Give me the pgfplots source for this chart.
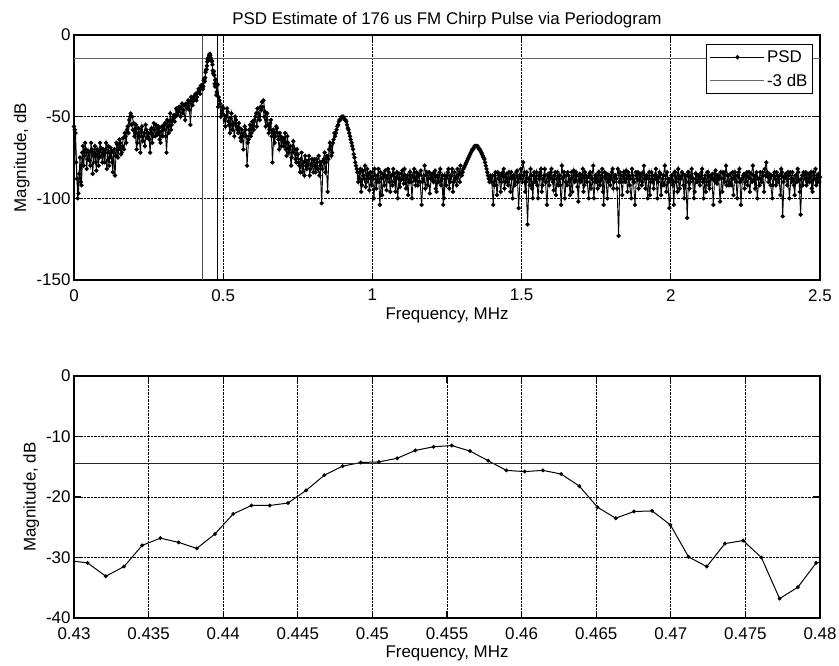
\documentclass[border=0pt]{standalone}
\usepackage{pgfplots}
\pgfplotsset{compat=1.18}
\usepackage{fontspec}
\setmainfont{Liberation Sans}
\pgfplotsset{
  matlab/.style={
    scale only axis,
    width=746bp,
    font=\fontsize{17}{20}\selectfont,
    /pgf/number format/assume math mode=true,
    tick align=inside,
    major tick length=7bp,
    axis line style={line width=1.2bp},
    every tick/.style={line width=1.1bp, black},
    grid=major,
    grid style={densely dotted, black, line width=0.9bp},
    xlabel={Frequency, MHz},
    ylabel={Magnitude, dB},
    tick label style={font=\fontsize{17}{20}\selectfont},
    xticklabel style={inner ysep=0bp, yshift=-9bp},
    yticklabel style={inner ysep=0bp},
    label style={font=\fontsize{17}{20}\selectfont},
    xlabel style={at={(axis description cs:0.5,0)}, anchor=north, inner sep=0pt, yshift=-28bp},
  },
  psd/.style={black, line width=0.9bp, mark=*, mark size=1.7bp, mark options={solid, fill=black}},
  db3/.style={black!60, line width=1.1bp},
}
\begin{document}
\begin{tikzpicture}
\path[use as bounding box] (-74bp,35bp) rectangle (765bp,-631bp);
\begin{axis}[matlab,
  name=top, at={(0,0)}, anchor=north west,
  height=245bp,
  xmin=0, xmax=2.5, ymin=-150, ymax=0,
  xtick={0,0.5,1,1.5,2,2.5},
  ytick={-150,-100,-50,0},
  title={PSD Estimate of 176 us FM Chirp Pulse via Periodogram},
  title style={font=\fontsize{17}{20}\selectfont, yshift=-3bp},
  legend style={at={(rel axis cs:0.9906,0.963)}, anchor=north east, draw=black, line width=1bp, font=\fontsize{17}{20}\selectfont, inner xsep=3bp, inner ysep=4bp, row sep=6bp, cells={anchor=west}},
  legend image code/.code={\draw[mark repeat=2,mark phase=2,#1] plot coordinates {(0bp,0bp)(27bp,0bp)(54bp,0bp)};},
]
\addplot[psd] coordinates {
(0.000,-56)(0.005,-60)(0.010,-88)(0.015,-97)(0.020,-75)(0.025,-92)(0.030,-68)(0.035,-74)(0.040,-70)(0.045,-76)
(0.050,-72)(0.055,-80)(0.060,-70)(0.065,-74)(0.070,-68)(0.075,-83)(0.080,-71)(0.085,-75)(0.090,-69)(0.095,-78)
(0.100,-73)(0.105,-70)(0.110,-82)(0.115,-68)(0.120,-75)(0.125,-71)(0.130,-84)(0.135,-70)(0.140,-74)(0.145,-67)
(0.150,-70)(0.155,-66)(0.160,-72)(0.165,-63)(0.170,-60)(0.175,-66)(0.180,-56)(0.185,-52)(0.190,-48)(0.195,-50)
(0.200,-54)(0.205,-60)(0.210,-70)(0.215,-57)(0.220,-62)(0.225,-58)(0.230,-65)(0.235,-60)(0.240,-55)(0.245,-63)
(0.250,-60)(0.255,-72)(0.260,-57)(0.265,-62)(0.270,-58)(0.275,-55)(0.280,-61)(0.285,-57)(0.290,-66)(0.295,-56)
(0.300,-58)(0.305,-54)(0.310,-72)(0.315,-56)(0.320,-53)(0.325,-58)(0.330,-52)(0.335,-49)(0.340,-50)(0.345,-46)
(0.350,-47)(0.355,-45)(0.360,-44)(0.365,-48)(0.370,-43)(0.375,-42)(0.380,-45)(0.385,-41)(0.390,-55)(0.395,-40)
(0.400,-38)(0.405,-37)(0.410,-40)(0.415,-35)(0.420,-34)(0.425,-31)
(0.42969,-30.5)(0.43091,-30.9)(0.43213,-33.1)(0.43335,-31.5)(0.43457,-28.0)(0.43579,-26.8)(0.43701,-27.5)(0.43823,-28.5)
(0.43945,-26.1)(0.44067,-22.8)(0.44189,-21.4)(0.44312,-21.4)(0.44434,-21.0)(0.44556,-18.9)(0.44678,-16.4)(0.44800,-14.9)
(0.44922,-14.3)(0.45044,-14.2)(0.45166,-13.6)(0.45288,-12.3)(0.45410,-11.7)(0.45532,-11.5)(0.45654,-12.4)(0.45776,-14.0)
(0.45898,-15.6)(0.46021,-15.8)(0.46143,-15.6)(0.46265,-16.2)(0.46387,-18.2)(0.46509,-21.7)(0.46631,-23.5)(0.46753,-22.4)
(0.46875,-22.3)(0.46997,-24.6)(0.47119,-29.9)(0.47241,-31.5)(0.47363,-27.7)(0.47485,-27.2)(0.47607,-30.0)(0.47729,-36.8)
(0.47852,-34.9)(0.47974,-30.9)(0.48096,-30.2)
(0.485,-38)(0.490,-42)(0.495,-48)
(0.500,-45)(0.505,-52)(0.510,-50)(0.515,-47)(0.520,-55)(0.525,-51)(0.530,-58)(0.535,-54)(0.540,-50)(0.545,-56)
(0.550,-60)(0.555,-57)(0.560,-65)(0.565,-62)(0.570,-60)(0.575,-58)(0.580,-80)(0.585,-64)(0.590,-55)(0.595,-60)
(0.600,-56)(0.605,-52)(0.610,-48)(0.615,-45)(0.620,-50)(0.625,-44)(0.630,-41)(0.635,-40)(0.640,-47)(0.645,-52)
(0.650,-55)(0.655,-58)(0.660,-52)(0.665,-78)(0.670,-60)(0.675,-62)(0.680,-57)(0.685,-64)(0.690,-60)(0.695,-68)
(0.700,-63)(0.705,-66)(0.710,-70)(0.715,-62)(0.720,-72)(0.725,-68)(0.730,-75)(0.735,-65)(0.740,-70)(0.745,-78)
(0.750,-73)(0.755,-80)(0.760,-76)(0.765,-84)(0.770,-78)(0.775,-74)(0.780,-82)(0.785,-77)(0.790,-86)(0.795,-79)
(0.800,-80)(0.805,-76)(0.810,-84)(0.815,-78)(0.820,-74)(0.825,-80)(0.830,-103)(0.835,-77)(0.840,-72)(0.845,-78)
(0.850,-96)(0.855,-70)(0.860,-68)(0.865,-72)(0.870,-64)(0.875,-62)(0.880,-58)(0.885,-55)(0.890,-52)(0.895,-51)
(0.900,-50)(0.905,-51)(0.910,-52)(0.915,-55)(0.920,-58)(0.925,-62)(0.930,-66)(0.935,-70)(0.940,-75)(0.945,-80)
(0.950,-84)(0.955,-88)(0.960,-82)(0.965,-92)(0.970,-86)(0.975,-80)(0.980,-90)(0.985,-85)(0.990,-95)(0.995,-88)
(1.000,-84)(1.005,-100)(1.010,-86)(1.015,-90)(1.020,-82)(1.025,-104)(1.030,-88)(1.035,-85)(1.040,-92)(1.045,-86)
(1.050,-88)(1.055,-84)(1.060,-96)(1.065,-86)(1.070,-82)(1.075,-90)(1.080,-87)(1.085,-100)(1.090,-85)(1.095,-89)
(1.100,-83)(1.105,-91)(1.110,-86)(1.115,-88)(1.120,-98)(1.125,-84)(1.130,-90)(1.135,-86)(1.140,-82)(1.145,-92)
(1.150,-87)(1.155,-85)(1.160,-90)(1.165,-104)(1.170,-88)(1.175,-80)(1.180,-86)(1.185,-92)(1.190,-84)(1.195,-88)
(1.200,-85)(1.205,-90)(1.210,-83)(1.215,-96)(1.220,-87)(1.225,-84)(1.230,-92)(1.235,-86)(1.240,-100)(1.245,-88)
(1.250,-86)(1.255,-82)(1.260,-90)(1.265,-86)(1.270,-96)(1.275,-84)(1.280,-88)(1.285,-82)(1.290,-85)(1.295,-80)
(1.300,-86)(1.305,-82)(1.310,-80)(1.315,-78)(1.320,-76)(1.325,-74)(1.330,-72)(1.335,-70)(1.340,-69)(1.345,-68)
(1.350,-68)(1.355,-69)(1.360,-70)(1.365,-72)(1.370,-74)(1.375,-76)(1.380,-80)(1.385,-84)(1.390,-88)(1.395,-86)
(1.400,-90)(1.405,-104)(1.410,-86)(1.415,-92)(1.420,-84)(1.425,-88)(1.430,-96)(1.435,-86)(1.440,-82)(1.445,-90)
(1.450,-85)(1.455,-92)(1.460,-88)(1.465,-84)(1.470,-100)(1.475,-86)(1.480,-90)(1.485,-83)(1.490,-106)(1.495,-88)
(1.500,-86)(1.505,-78)(1.510,-84)(1.515,-90)(1.520,-116)(1.525,-88)(1.530,-82)(1.535,-94)(1.540,-86)(1.545,-90)
(1.550,-84)(1.555,-100)(1.560,-88)(1.565,-82)(1.570,-92)(1.575,-86)(1.580,-90)(1.585,-104)(1.590,-85)(1.595,-88)
(1.600,-82)(1.605,-90)(1.610,-86)(1.615,-98)(1.620,-84)(1.625,-88)(1.630,-92)(1.635,-80)(1.640,-87)(1.645,-100)
(1.650,-86)(1.655,-84)(1.660,-90)(1.665,-88)(1.670,-96)(1.675,-83)(1.680,-89)(1.685,-86)(1.690,-102)(1.695,-85)
(1.700,-88)(1.705,-82)(1.710,-92)(1.715,-86)(1.720,-90)(1.725,-100)(1.730,-84)(1.735,-88)(1.740,-80)(1.745,-90)
(1.750,-86)(1.755,-94)(1.760,-84)(1.765,-89)(1.770,-82)(1.775,-104)(1.780,-87)(1.785,-85)(1.790,-90)(1.795,-86)
(1.800,-88)(1.805,-82)(1.810,-90)(1.815,-86)(1.820,-94)(1.825,-123)(1.830,-84)(1.835,-90)(1.840,-86)(1.845,-88)
(1.850,-83)(1.855,-96)(1.860,-86)(1.865,-88)(1.870,-82)(1.875,-90)(1.880,-104)(1.885,-86)(1.890,-84)(1.895,-89)
(1.900,-85)(1.905,-90)(1.910,-80)(1.915,-94)(1.920,-86)(1.925,-88)(1.930,-98)(1.935,-84)(1.940,-90)(1.945,-86)
(1.950,-82)(1.955,-100)(1.960,-87)(1.965,-85)(1.970,-92)(1.975,-86)(1.980,-80)(1.985,-96)(1.990,-88)(1.995,-106)
(2.000,-90)(2.005,-86)(2.010,-104)(2.015,-84)(2.020,-88)(2.025,-82)(2.030,-94)(2.035,-87)(2.040,-85)(2.045,-100)
(2.050,-86)(2.055,-112)(2.060,-84)(2.065,-90)(2.070,-82)(2.075,-88)(2.080,-96)(2.085,-85)(2.090,-90)(2.095,-86)
(2.100,-88)(2.105,-82)(2.110,-100)(2.115,-86)(2.120,-90)(2.125,-84)(2.130,-94)(2.135,-87)(2.140,-85)(2.145,-89)
(2.150,-83)(2.155,-91)(2.160,-86)(2.165,-102)(2.170,-88)(2.175,-84)(2.180,-90)(2.185,-80)(2.190,-86)(2.195,-92)
(2.200,-85)(2.205,-88)(2.210,-98)(2.215,-84)(2.220,-90)(2.225,-86)(2.230,-82)(2.235,-104)(2.240,-88)(2.245,-85)
(2.250,-90)(2.255,-84)(2.260,-87)(2.265,-96)(2.270,-85)(2.275,-80)(2.280,-89)(2.285,-86)(2.290,-100)(2.295,-88)
(2.300,-84)(2.305,-90)(2.310,-86)(2.315,-82)(2.320,-78)(2.325,-87)(2.330,-85)(2.335,-92)(2.340,-100)(2.345,-86)
(2.350,-88)(2.355,-84)(2.360,-90)(2.365,-86)(2.370,-82)(2.375,-111)(2.380,-87)(2.385,-85)(2.390,-92)(2.395,-86)
(2.400,-84)(2.405,-90)(2.410,-88)(2.415,-98)(2.420,-86)(2.425,-82)(2.430,-89)(2.435,-110)(2.440,-86)(2.445,-84)
(2.450,-88)(2.455,-92)(2.460,-85)(2.465,-90)(2.470,-84)(2.475,-96)(2.480,-86)(2.485,-82)(2.490,-90)(2.495,-85)(2.500,-87)
};
\addlegendentry{PSD}
\addplot[db3] coordinates {(0,-14.5)(2.5,-14.5)};
\addlegendentry{-3 dB}
\addplot[psd, forget plot] coordinates {
(0.0025,-58)(0.0075,-78)(0.0125,-100)(0.0175,-85)(0.0225,-90)(0.0275,-72)(0.0325,-80)(0.0375,-66)(0.0425,-82)(0.0475,-71)
(0.0525,-77)(0.0575,-66)(0.0625,-85)(0.0675,-72)(0.0725,-78)(0.0775,-70)(0.0825,-80)(0.0875,-66)(0.0925,-74)(0.0975,-70)
(0.1025,-78)(0.1075,-66)(0.1125,-72)(0.1175,-80)(0.1225,-69)(0.1275,-78)(0.1325,-72)(0.1375,-86)(0.1425,-66)(0.1475,-75)
(0.1525,-64)(0.1575,-73)(0.1625,-68)(0.1675,-70)(0.1725,-62)(0.1775,-58)(0.1825,-60)(0.1875,-50)(0.1925,-55)(0.1975,-58)
(0.2025,-62)(0.2075,-55)(0.2125,-66)(0.2175,-60)(0.2225,-72)(0.2275,-56)(0.2325,-62)(0.2375,-68)(0.2425,-58)(0.2475,-60)
(0.2525,-64)(0.2575,-58)(0.2625,-66)(0.2675,-54)(0.2725,-62)(0.2775,-60)(0.2825,-56)(0.2875,-64)(0.2925,-59)(0.2975,-62)
(0.3025,-55)(0.3075,-62)(0.3125,-52)(0.3175,-60)(0.3225,-48)(0.3275,-55)(0.3325,-50)(0.3375,-53)(0.3425,-45)(0.3475,-49)
(0.3525,-44)(0.3575,-50)(0.3625,-42)(0.3675,-46)(0.3725,-52)(0.3775,-44)(0.3825,-40)(0.3875,-46)(0.3925,-38)(0.3975,-43)
(0.4025,-40)(0.4075,-36)(0.4125,-38)(0.4175,-33)(0.4225,-36)(0.4275,-32)
};
\addplot[psd, forget plot] coordinates {
(0.4825,-44)(0.4875,-40)(0.4925,-50)(0.4975,-44)
(0.5025,-49)(0.5075,-56)(0.5125,-45)(0.5175,-53)(0.5225,-60)(0.5275,-48)(0.5325,-55)(0.5375,-62)(0.5425,-52)(0.5475,-58)
(0.5525,-54)(0.5575,-63)(0.5625,-58)(0.5675,-70)(0.5725,-56)(0.5775,-62)(0.5825,-66)(0.5875,-58)(0.5925,-62)(0.5975,-53)
(0.6025,-58)(0.6075,-50)(0.6125,-56)(0.6175,-48)(0.6225,-52)(0.6275,-46)(0.6325,-44)(0.6375,-50)(0.6425,-56)(0.6475,-48)
(0.6525,-60)(0.6575,-54)(0.6625,-62)(0.6675,-58)(0.6725,-66)(0.6775,-56)(0.6825,-60)(0.6875,-70)(0.6925,-62)(0.6975,-64)
(0.7025,-68)(0.7075,-60)(0.7125,-74)(0.7175,-66)(0.7225,-70)(0.7275,-80)(0.7325,-68)(0.7375,-72)(0.7425,-76)(0.7475,-70)
(0.7525,-78)(0.7575,-84)(0.7625,-72)(0.7675,-80)(0.7725,-86)(0.7775,-77)(0.7825,-80)(0.7875,-74)(0.7925,-82)(0.7975,-76)
(0.8025,-84)(0.8075,-80)(0.8125,-76)(0.8175,-82)(0.8225,-86)(0.8275,-78)(0.8325,-82)(0.8375,-76)(0.8425,-84)(0.8475,-74)
(0.8525,-76)(0.8575,-66)(0.8625,-74)(0.8675,-66)(0.8725,-60)(0.8775,-60)(0.8825,-56)(0.8875,-53)(0.8925,-52)(0.8975,-50)
(0.9025,-50)(0.9075,-52)(0.9125,-53)(0.9175,-57)(0.9225,-60)(0.9275,-64)(0.9325,-68)(0.9375,-73)(0.9425,-78)(0.9475,-82)
(0.9525,-90)(0.9575,-84)(0.9625,-96)(0.9675,-83)(0.9725,-88)(0.9775,-93)(0.9825,-82)(0.9875,-88)(0.9925,-84)(0.9975,-92)
(1.0025,-88)(1.0075,-82)(1.0125,-94)(1.0175,-86)(1.0225,-90)(1.0275,-84)(1.0325,-98)(1.0375,-87)(1.0425,-83)(1.0475,-95)
(1.0525,-82)(1.0575,-90)(1.0625,-86)(1.0675,-92)(1.0725,-85)(1.0775,-96)(1.0825,-84)(1.0875,-88)(1.0925,-93)(1.0975,-85)
(1.1025,-88)(1.1075,-82)(1.1125,-94)(1.1175,-86)(1.1225,-90)(1.1275,-84)(1.1325,-100)(1.1375,-87)(1.1425,-89)(1.1475,-84)
(1.1525,-92)(1.1575,-86)(1.1625,-83)(1.1675,-90)(1.1725,-86)(1.1775,-94)(1.1825,-84)(1.1875,-88)(1.1925,-97)(1.1975,-86)
(1.2025,-89)(1.2075,-84)(1.2125,-94)(1.2175,-86)(1.2225,-90)(1.2275,-82)(1.2325,-88)(1.2375,-104)(1.2425,-86)(1.2475,-92)
(1.2525,-84)(1.2575,-94)(1.2625,-86)(1.2675,-82)(1.2725,-90)(1.2775,-88)(1.2825,-92)(1.2875,-86)(1.2925,-90)(1.2975,-84)
(1.3025,-84)(1.3075,-81)(1.3125,-79)(1.3175,-77)(1.3225,-75)(1.3275,-73)(1.3325,-71)(1.3375,-70)(1.3425,-68)(1.3475,-68)
(1.3525,-68)(1.3575,-70)(1.3625,-71)(1.3675,-73)(1.3725,-75)(1.3775,-78)(1.3825,-82)(1.3875,-86)(1.3925,-90)(1.3975,-88)
(1.4025,-86)(1.4075,-92)(1.4125,-84)(1.4175,-98)(1.4225,-88)(1.4275,-85)(1.4325,-90)(1.4375,-84)(1.4425,-94)(1.4475,-87)
(1.4525,-90)(1.4575,-84)(1.4625,-96)(1.4675,-88)(1.4725,-86)(1.4775,-92)(1.4825,-84)(1.4875,-90)(1.4925,-86)(1.4975,-82)
(1.5025,-90)(1.5075,-86)(1.5125,-96)(1.5175,-84)(1.5225,-88)(1.5275,-92)(1.5325,-86)(1.5375,-100)(1.5425,-84)(1.5475,-88)
(1.5525,-92)(1.5575,-86)(1.5625,-84)(1.5675,-96)(1.5725,-88)(1.5775,-82)(1.5825,-90)(1.5875,-86)(1.5925,-92)(1.5975,-84)
(1.6025,-88)(1.6075,-95)(1.6125,-84)(1.6175,-88)(1.6225,-92)(1.6275,-86)(1.6325,-104)(1.6375,-88)(1.6425,-84)(1.6475,-90)
(1.6525,-92)(1.6575,-86)(1.6625,-98)(1.6675,-84)(1.6725,-88)(1.6775,-90)(1.6825,-84)(1.6875,-93)(1.6925,-86)(1.6975,-90)
(1.7025,-86)(1.7075,-96)(1.7125,-84)(1.7175,-90)(1.7225,-87)(1.7275,-85)(1.7325,-94)(1.7375,-88)(1.7425,-100)(1.7475,-86)
(1.7525,-90)(1.7575,-84)(1.7625,-92)(1.7675,-86)(1.7725,-96)(1.7775,-84)(1.7825,-88)(1.7875,-100)(1.7925,-86)(1.7975,-92)
(1.8025,-84)(1.8075,-94)(1.8125,-86)(1.8175,-88)(1.8225,-82)(1.8275,-90)(1.8325,-86)(1.8375,-98)(1.8425,-84)(1.8475,-90)
(1.8525,-88)(1.8575,-84)(1.8625,-92)(1.8675,-100)(1.8725,-86)(1.8775,-90)(1.8825,-84)(1.8875,-88)(1.8925,-94)(1.8975,-86)
(1.9025,-92)(1.9075,-84)(1.9125,-88)(1.9175,-86)(1.9225,-100)(1.9275,-84)(1.9325,-90)(1.9375,-86)(1.9425,-94)(1.9475,-88)
(1.9525,-86)(1.9575,-90)(1.9625,-84)(1.9675,-98)(1.9725,-88)(1.9775,-92)(1.9825,-86)(1.9875,-84)(1.9925,-90)(1.9975,-88)
(2.0025,-86)(2.0075,-92)(2.0125,-84)(2.0175,-90)(2.0225,-96)(2.0275,-86)(2.0325,-88)(2.0375,-84)(2.0425,-92)(2.0475,-86)
(2.0525,-90)(2.0575,-84)(2.0625,-94)(2.0675,-86)(2.0725,-88)(2.0775,-100)(2.0825,-85)(2.0875,-90)(2.0925,-86)(2.0975,-92)
(2.1025,-84)(2.1075,-90)(2.1125,-88)(2.1175,-96)(2.1225,-84)(2.1275,-92)(2.1325,-86)(2.1375,-88)(2.1425,-104)(2.1475,-85)
(2.1525,-90)(2.1575,-86)(2.1625,-88)(2.1675,-84)(2.1725,-96)(2.1775,-88)(2.1825,-84)(2.1875,-92)(2.1925,-86)(2.1975,-90)
(2.2025,-92)(2.2075,-84)(2.2125,-88)(2.2175,-86)(2.2225,-100)(2.2275,-84)(2.2325,-90)(2.2375,-88)(2.2425,-86)(2.2475,-94)
(2.2525,-86)(2.2575,-92)(2.2625,-84)(2.2675,-88)(2.2725,-90)(2.2775,-86)(2.2825,-94)(2.2875,-84)(2.2925,-88)(2.2975,-92)
(2.3025,-88)(2.3075,-84)(2.3125,-96)(2.3175,-86)(2.3225,-84)(2.3275,-90)(2.3325,-88)(2.3375,-86)(2.3425,-92)(2.3475,-84)
(2.3525,-92)(2.3575,-86)(2.3625,-88)(2.3675,-98)(2.3725,-84)(2.3775,-90)(2.3825,-86)(2.3875,-88)(2.3925,-84)(2.3975,-100)
(2.4025,-88)(2.4075,-84)(2.4125,-92)(2.4175,-86)(2.4225,-90)(2.4275,-84)(2.4325,-96)(2.4375,-88)(2.4425,-92)(2.4475,-86)
(2.4525,-84)(2.4575,-90)(2.4625,-88)(2.4675,-86)(2.4725,-94)(2.4775,-84)(2.4825,-88)(2.4875,-92)(2.4925,-86)(2.4975,-90)
};
\addplot[black!70, line width=1.3bp, forget plot] coordinates {(0.43,-150)(0.43,0)};
\addplot[black, line width=1.3bp, forget plot] coordinates {(0.48,-150)(0.48,0)};
\end{axis}
\begin{axis}[matlab,
  name=bottom, at={(0,-341bp)}, anchor=north west,
  height=242bp,
  xmin=0.43, xmax=0.48, ymin=-40, ymax=0,
  xtick={0.43,0.435,0.44,0.445,0.45,0.455,0.46,0.465,0.47,0.475,0.48},
  xticklabels={0.43,0.435,0.44,0.445,0.45,0.455,0.46,0.465,0.47,0.475,0.48},
  ytick={-40,-30,-20,-10,0},
]
\addplot[black, line width=1bp, mark=*, mark size=1.4bp, mark options={solid, fill=black}] coordinates {
(0.42969,-30.5)(0.43091,-30.9)(0.43213,-33.1)(0.43335,-31.5)(0.43457,-28.0)(0.43579,-26.8)(0.43701,-27.5)(0.43823,-28.5)
(0.43945,-26.1)(0.44067,-22.8)(0.44189,-21.4)(0.44312,-21.4)(0.44434,-21.0)(0.44556,-18.9)(0.44678,-16.4)(0.44800,-14.9)
(0.44922,-14.3)(0.45044,-14.2)(0.45166,-13.6)(0.45288,-12.3)(0.45410,-11.7)(0.45532,-11.5)(0.45654,-12.4)(0.45776,-14.0)
(0.45898,-15.6)(0.46021,-15.8)(0.46143,-15.6)(0.46265,-16.2)(0.46387,-18.2)(0.46509,-21.7)(0.46631,-23.5)(0.46753,-22.4)
(0.46875,-22.3)(0.46997,-24.6)(0.47119,-29.9)(0.47241,-31.5)(0.47363,-27.7)(0.47485,-27.2)(0.47607,-30.0)(0.47729,-36.8)
(0.47852,-34.9)(0.47974,-30.9)(0.48096,-30.2)
};
\addplot[black!85, line width=1.2bp] coordinates {(0.43,-14.5)(0.48,-14.5)};
\end{axis}
\end{tikzpicture}
\end{document}
